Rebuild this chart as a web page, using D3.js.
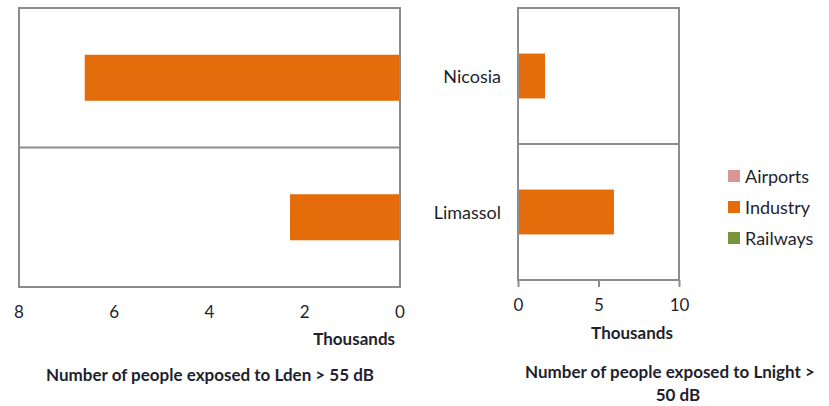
<!DOCTYPE html>
<html>
<head>
<meta charset="utf-8">
<script src="https://cdn.jsdelivr.net/npm/d3@7"></script>
<style>
  body { margin: 0; background: #fff; overflow: hidden; }
  svg text { font-family: Lato, "Open Sans", sans-serif; fill: #1f1f2e; }
  .bold { font-weight: bold; }
</style>
</head>
<body>
<div id="chart"></div>
<script>
// Chart data
const categories = ["Nicosia", "Limassol"];
const seriesNames = ["Airports", "Industry", "Railways"];
const seriesColors = ["#d99694", "#e46c0a", "#77933c"];

// Thousands of people, Lden > 55 dB
const ldenAirports = [0, 0];
const ldenIndustry = [6.62, 2.31];
const ldenRailways = [0, 0];

// Thousands of people, Lnight > 50 dB
const lnightAirports = [0, 0];
const lnightIndustry = [1.68, 5.96];
const lnightRailways = [0, 0];

const leftTicks = [8, 6, 4, 2, 0];
const rightTicks = [0, 5, 10];

const svgWidth = 829;
const svgHeight = 406;

const svg = d3.select("#chart")
  .append("svg")
  .attr("width", svgWidth)
  .attr("height", svgHeight);

// build rows for d3.stack
function makeRows(a, i, r) {
  return categories.map((c, k) => ({ city: c, Airports: a[k], Industry: i[k], Railways: r[k] }));
}
const stack = d3.stack().keys(seriesNames);
const color = d3.scaleOrdinal().domain(seriesNames).range(seriesColors);

const frameColor = "#8c8c8c";

// ---- left panel (reversed axis) ----
const left = { x0: 19, x1: 400, y0: 8, y1: 287 };
const xLeft = d3.scaleLinear().domain([0, 8]).range([left.x1, left.x0]);
const yLeft = d3.scaleBand().domain(categories).range([left.y0, left.y1]);

const gLeft = svg.append("g");
const ldenStack = stack(makeRows(ldenAirports, ldenIndustry, ldenRailways));
const barLeft = yLeft.bandwidth() * 0.33;

gLeft.selectAll("g.series")
  .data(ldenStack)
  .enter()
  .append("g")
  .attr("fill", d => color(d.key))
  .selectAll("rect")
  .data(d => d)
  .enter()
  .append("rect")
  .attr("x", d => xLeft(d[1]))
  .attr("width", d => xLeft(d[0]) - xLeft(d[1]))
  .attr("y", d => yLeft(d.data.city) + (yLeft.bandwidth() - barLeft) / 2)
  .attr("height", barLeft);

gLeft.append("rect")
  .attr("x", left.x0).attr("y", left.y0)
  .attr("width", left.x1 - left.x0).attr("height", left.y1 - left.y0)
  .attr("fill", "none").attr("stroke", frameColor).attr("stroke-width", 2);

gLeft.append("line")
  .attr("x1", left.x0).attr("x2", left.x1)
  .attr("y1", yLeft(categories[1])).attr("y2", yLeft(categories[1]))
  .attr("stroke", frameColor).attr("stroke-width", 2);

gLeft.selectAll("text.tick")
  .data(leftTicks)
  .enter()
  .append("text")
  .attr("class", "tick")
  .attr("x", d => xLeft(d))
  .attr("y", 318)
  .attr("text-anchor", "middle")
  .style("font-size", "17px")
  .text(d => d);

gLeft.append("text")
  .attr("class", "bold")
  .attr("x", 395).attr("y", 345)
  .attr("text-anchor", "end")
  .style("font-size", "17px")
  .text("Thousands");

gLeft.append("text")
  .attr("class", "bold")
  .attr("x", 210).attr("y", 381)
  .attr("text-anchor", "middle")
  .style("font-size", "17px")
  .text("Number of people exposed to Lden > 55 dB");

// ---- right panel ----
const right = { x0: 518, x1: 679, y0: 8, y1: 280 };
const xRight = d3.scaleLinear().domain([0, 10]).range([right.x0, right.x1]);
const yRight = d3.scaleBand().domain(categories).range([right.y0, right.y1]);

const gRight = svg.append("g");
const lnightStack = stack(makeRows(lnightAirports, lnightIndustry, lnightRailways));
const barRight = yRight.bandwidth() * 0.33;

gRight.selectAll("g.series")
  .data(lnightStack)
  .enter()
  .append("g")
  .attr("fill", d => color(d.key))
  .selectAll("rect")
  .data(d => d)
  .enter()
  .append("rect")
  .attr("x", d => xRight(d[0]))
  .attr("width", d => xRight(d[1]) - xRight(d[0]))
  .attr("y", d => yRight(d.data.city) + (yRight.bandwidth() - barRight) / 2)
  .attr("height", barRight);

gRight.append("rect")
  .attr("x", right.x0).attr("y", right.y0)
  .attr("width", right.x1 - right.x0).attr("height", right.y1 - right.y0)
  .attr("fill", "none").attr("stroke", frameColor).attr("stroke-width", 2);

gRight.append("line")
  .attr("x1", right.x0).attr("x2", right.x1)
  .attr("y1", yRight(categories[1])).attr("y2", yRight(categories[1]))
  .attr("stroke", frameColor).attr("stroke-width", 2);

const bottomAxis = d3.axisBottom(xRight)
  .tickValues(rightTicks)
  .tickSize(7)
  .tickSizeOuter(0);

const axisG = gRight.append("g")
  .attr("transform", `translate(0, ${right.y1})`)
  .call(bottomAxis);
axisG.select(".domain").remove();
axisG.selectAll("line").attr("stroke", frameColor).attr("stroke-width", 2);
axisG.selectAll("text")
  .attr("y", 31)
  .attr("dy", null)
  .style("font-family", "Lato, 'Open Sans', sans-serif")
  .style("font-size", "17px")
  .attr("fill", "#1f1f2e");

// category labels
gRight.selectAll("text.cat")
  .data(categories)
  .enter()
  .append("text")
  .attr("class", "cat")
  .attr("x", 501)
  .attr("y", d => yRight(d) + yRight.bandwidth() / 2 + 7)
  .attr("text-anchor", "end")
  .style("font-size", "18px")
  .text(d => d);

gRight.append("text")
  .attr("class", "bold")
  .attr("x", 632).attr("y", 339)
  .attr("text-anchor", "middle")
  .style("font-size", "17px")
  .text("Thousands");

gRight.append("text")
  .attr("class", "bold")
  .attr("x", 525).attr("y", 378)
  .style("font-size", "17px")
  .text("Number of people exposed to Lnight >");

gRight.append("text")
  .attr("class", "bold")
  .attr("x", 678).attr("y", 401)
  .attr("text-anchor", "middle")
  .style("font-size", "17px")
  .text("50 dB");

// ---- legend ----
const legend = svg.append("g")
  .selectAll("g")
  .data(seriesNames)
  .enter()
  .append("g")
  .attr("transform", (d, i) => `translate(728, ${170 + i * 31})`);

legend.append("rect")
  .attr("width", 12).attr("height", 12)
  .attr("fill", d => color(d));

legend.append("text")
  .attr("x", 17).attr("y", 13)
  .style("font-size", "18px")
  .text(d => d);
</script>
</body>
</html>
